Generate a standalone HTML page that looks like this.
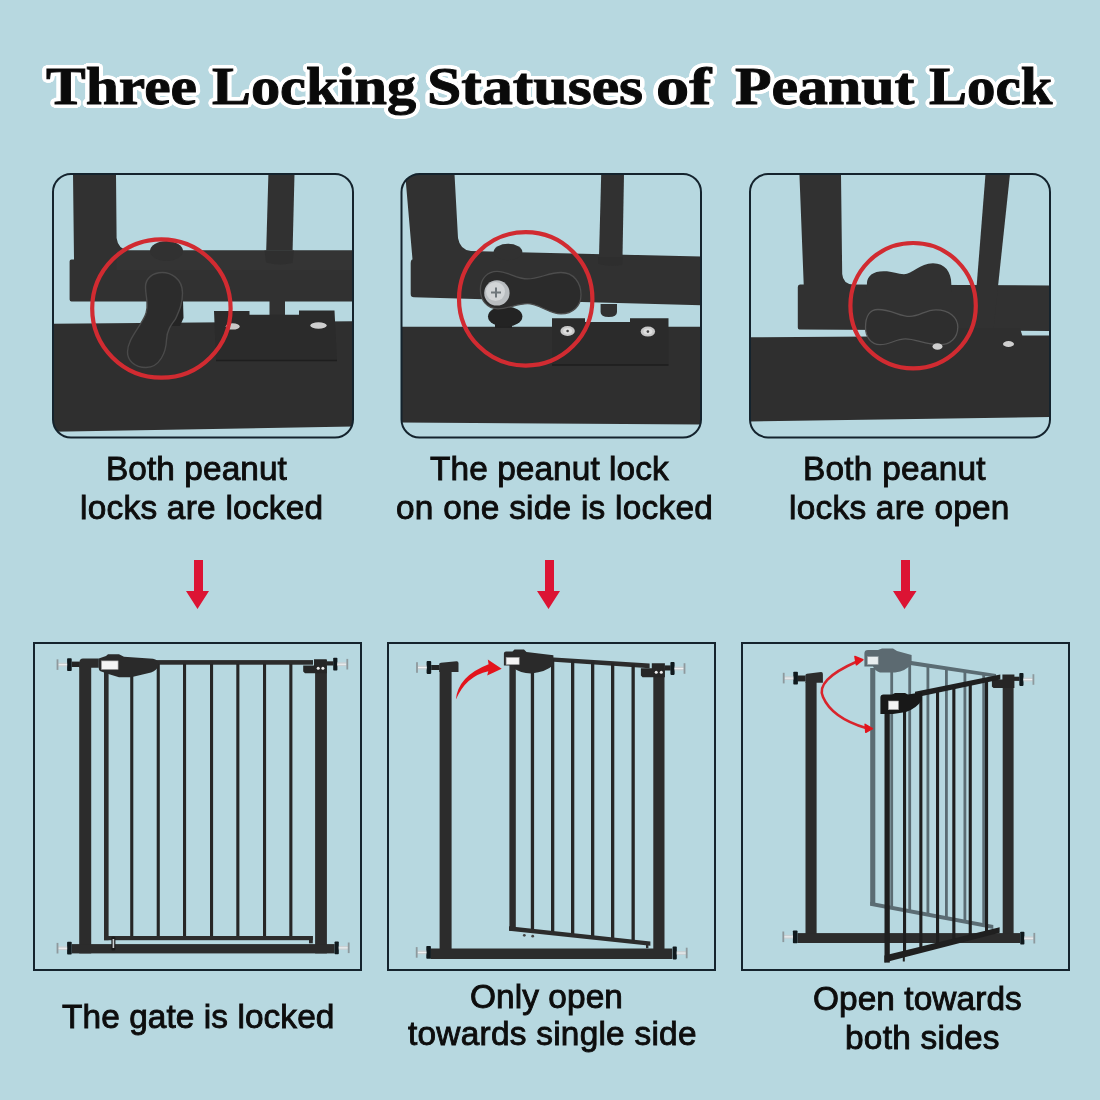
<!DOCTYPE html>
<html><head><meta charset="utf-8">
<style>
html,body{margin:0;padding:0;}
body{width:1100px;height:1100px;background:#b7d8e0;position:relative;overflow:hidden;font-family:"Liberation Sans",sans-serif;}
.w{position:absolute;top:0;white-space:nowrap;font-family:"Liberation Serif",serif;font-weight:bold;color:#0a0a0a;font-size:52.5px;line-height:1;transform-origin:0 0;-webkit-text-stroke:0.9px #0a0a0a;
 text-shadow:4.00px 0.00px 0 #fff,3.86px 1.04px 0 #fff,3.46px 2.00px 0 #fff,2.83px 2.83px 0 #fff,2.00px 3.46px 0 #fff,1.04px 3.86px 0 #fff,0.00px 4.00px 0 #fff,-1.04px 3.86px 0 #fff,-2.00px 3.46px 0 #fff,-2.83px 2.83px 0 #fff,-3.46px 2.00px 0 #fff,-3.86px 1.04px 0 #fff,-4.00px 0.00px 0 #fff,-3.86px -1.04px 0 #fff,-3.46px -2.00px 0 #fff,-2.83px -2.83px 0 #fff,-2.00px -3.46px 0 #fff,-1.04px -3.86px 0 #fff,-0.00px -4.00px 0 #fff,1.04px -3.86px 0 #fff,2.00px -3.46px 0 #fff,2.83px -2.83px 0 #fff,3.46px -2.00px 0 #fff,3.86px -1.04px 0 #fff,2.50px 0.00px 0 #fff,2.17px 1.25px 0 #fff,1.25px 2.17px 0 #fff,0.00px 2.50px 0 #fff,-1.25px 2.17px 0 #fff,-2.17px 1.25px 0 #fff,-2.50px 0.00px 0 #fff,-2.17px -1.25px 0 #fff,-1.25px -2.17px 0 #fff,-0.00px -2.50px 0 #fff,1.25px -2.17px 0 #fff,2.17px -1.25px 0 #fff,0 0 5px #fff;}
.cap{position:absolute;white-space:nowrap;color:#0d0d0d;font-size:33.4px;line-height:1;letter-spacing:0.25px;-webkit-text-stroke:0.9px #0d0d0d;will-change:transform;}
svg{position:absolute;left:0;top:0;}
#w1{left:46.1px;top:59.8px;transform:scaleX(1.134)}
#w2{left:211.5px;top:59.8px;transform:scaleX(1.111)}
#w3{left:427.0px;top:59.8px;transform:scaleX(1.176)}
#w4{left:656.2px;top:59.8px;transform:scaleX(1.264)}
#w5{left:734.8px;top:59.8px;transform:scaleX(1.140)}
#w6{left:929.1px;top:59.8px;transform:scaleX(1.084)}

</style></head><body>
<svg width="1100" height="1100" viewBox="0 0 1100 1100">
<defs>
 <clipPath id="k1"><rect x="53" y="174" width="300" height="263.5" rx="18"/></clipPath>
 <clipPath id="k2"><rect x="401.5" y="174" width="299.5" height="263.5" rx="18"/></clipPath>
 <clipPath id="k3"><rect x="750" y="174" width="300" height="263.5" rx="18"/></clipPath>
</defs>
<!-- TOP PANELS -->
<g id="tp1" clip-path="url(#k1)">
 <g fill="#313131">
  <path d="M73,174H116L116.6,238Q118,249.5 129,250.5H354V301.5H71.5Q69.6,301.5 69.6,299.5V261.5Q69.6,259.5 71.5,259.5H74Z"/>
  <path d="M116.6,250.5H354V270H116.6Z" fill="#343434"/>
  <path d="M268.4,174H294.5L292.6,250.5H266.2Z"/>
  <path d="M264.5,250.5H294L292.5,263Q280,266 266,262.5Z" fill="#2f2f2f"/>
  <ellipse cx="166.5" cy="251" rx="16.5" ry="10"/>
  <path d="M269.5,300H285V316H269.5Z"/>
  <path d="M50,323.7L354,321.3V426.5L50,431.8Z" fill="#2f2f2f"/>
  <path d="M214,311H249.5V314.7H299V310.4H334.5L337,361H216Z" fill="#2b2b2b"/>
 </g>
 <path d="M216,360.5H337" stroke="#1e1e1e" stroke-width="1.5"/>
 <ellipse cx="232.7" cy="326.4" rx="7" ry="3.2" fill="#c9c9c9"/>
 <ellipse cx="318.5" cy="325.5" rx="8.2" ry="3.3" fill="#cfcfcf"/>
 <path d="M176,298L183,300.5L183.5,318L180,326L170,326Z" fill="#242424"/>
 <path d="M162.4,272.5C170,272.5 182.5,278 182.5,293C182.5,303 180,309 175.5,319C171,325 167,330 166.5,340C166,352 160,367.5 146,367.5C134,367.5 127.5,360 127.5,352C127.5,342 135,333 141,323C146,315 147.6,311 147,302C146.5,296 145.5,292 145.5,287C145.5,278 153,272.5 162.4,272.5Z" fill="#2c2c2c" stroke="#4a4a4a" stroke-width="1.4"/>
 <circle cx="161.4" cy="308.5" r="69.2" fill="none" stroke="#d12b31" stroke-width="4.2"/>
</g>
<g id="tp2" clip-path="url(#k2)">
 <g fill="#313131">
  <path d="M405.5,178Q405.5,174 410,174H454.5L458,238Q460,250 471,251L702,256.6V305.3L414,297.3Q410.7,297.3 410.7,294V263Q410.7,260 412,259.5L412.5,259.5Z"/>
  <path d="M601.2,174H624L622.5,257H599Z"/>
  <path d="M598,257H623L622,265Q610,267 598.5,264Z" fill="#2e2e2e"/>
  <path d="M600.6,304H617V312Q617,317 608.8,317Q600.6,317 600.6,312Z"/>
  <ellipse cx="508" cy="252" rx="14.4" ry="8.2"/>
  <path d="M400,326.7H702V424.6L400,422.6Z" fill="#2f2f2f"/>
  <path d="M495,315H512V328H495Z" fill="#222"/>
  <ellipse cx="505.2" cy="316.5" rx="17.2" ry="10.2" fill="#232323"/>
  <path d="M552,318.2H585V322H630V318.2H668.5V365.5H552Z" fill="#2b2b2b"/>
 </g>
 <path d="M552,365H668.5" stroke="#1e1e1e" stroke-width="1.5"/>
 <ellipse cx="567.6" cy="331" rx="7.2" ry="5" fill="#c8c8c8"/><ellipse cx="567.6" cy="331" rx="4.5" ry="3" fill="#dedede"/><circle cx="567.6" cy="331" r="1.3" fill="#444"/>
 <ellipse cx="647.9" cy="331.6" rx="7.2" ry="5" fill="#c8c8c8"/><ellipse cx="647.9" cy="331.6" rx="4.5" ry="3" fill="#dedede"/><circle cx="647.9" cy="331.6" r="1.3" fill="#444"/>
 <path d="M480.4,289.7C480.4,278 488,271.3 497,271.3C508,271.3 516,278.9 527.5,278.9C539,278.9 549,272.5 561,272.5C574,272.5 581,283 581,294.8C581,306 573,313.9 561,313.9C549,313.9 539,303.7 527.5,303.7C516,303.7 509,308.8 498,308.8C487,308.8 480.4,300 480.4,289.7Z" fill="#2b2b2b" stroke="#4d4d4d" stroke-width="1.3"/>
 <circle cx="496.9" cy="292.9" r="12.7" fill="#b9bdc0"/>
 <circle cx="495.5" cy="291.5" r="9.5" fill="#d2d5d7"/>
 <path d="M491,292.5H501M496,287.5V297.5" stroke="#6f767b" stroke-width="2"/>
 <circle cx="525.7" cy="298.9" r="66.7" fill="none" stroke="#d12b31" stroke-width="4.2"/>
</g>
<g id="tp3" clip-path="url(#k3)">
 <g fill="#313131">
  <path d="M799.4,174H841L842.2,274Q843,284 853,284.5L1052,285.5V331L799.5,329.5Q797.8,329.5 797.8,327.5V287Q797.8,284.5 800,284.5H803.7Z"/>
  <path d="M985.5,174H1010L992.5,338H972.5Z"/>
  <path d="M748,337.3L1052,335.4V417L748,421.5Z" fill="#2f2f2f"/>
  <path d="M935,328H1020L1023,338H935Z" fill="#2f2f2f"/>
  <path d="M866.9,292V284C867,276 873,271.3 883.6,271.3C893,271.3 898,274.2 904,274.2C912,274.2 920,263.3 933,263.3C945,263.3 951.3,272 951.3,284V292Z"/>
 </g>
 <path d="M865.5,327.3C865.5,316 870,309.5 878,309.5C892,309.5 899,316.4 909.8,316.4C920,316.4 925,309.8 936,309.8C949,309.8 957.8,317 957.8,327.3C957.8,338 950,344.7 940,344.7C925,344.7 916,338.9 905.5,338.9C895,338.9 891,344.7 880,344.7C871,344.7 865.5,337 865.5,327.3Z" fill="#2e2e2e" stroke="#555" stroke-width="1.3"/>
 <ellipse cx="937.5" cy="346.5" rx="5" ry="3.2" fill="#cfcfcf"/>
 <ellipse cx="1008.5" cy="344" rx="5.5" ry="3" fill="#cfcfcf"/>
 <circle cx="913.1" cy="305.7" r="62.7" fill="none" stroke="#d12b31" stroke-width="4.2"/>
</g>
<g fill="none" stroke="#14232d" stroke-width="2">
 <rect x="53" y="174" width="300" height="263.5" rx="18"/>
 <rect x="401.5" y="174" width="299.5" height="263.5" rx="18"/>
 <rect x="750" y="174" width="300" height="263.5" rx="18"/>
</g>
<!-- DOWN ARROWS -->
<g fill="#dc1434">
 <path d="M194 560H203V591H209L197.5 609L186 591H194Z"/>
 <path d="M545 560H554V591H560L548.5 609L537 591H545Z"/>
 <path d="M901 560H910V591H916.5L904.5 609L893 591H901Z"/>
</g>
<!-- BOTTOM PANELS -->
<g fill="none" stroke="#14232d" stroke-width="2">
 <rect x="34" y="643" width="327" height="327"/>
 <rect x="388" y="643" width="327" height="327"/>
 <rect x="742" y="643" width="327" height="327"/>
</g>
<g id="bp1"><rect x="79.2" y="662.0" width="12.0" height="291.4" fill="#2c2c2c" /><rect x="315.1" y="660.0" width="11.8" height="293.4" fill="#2c2c2c" /><rect x="71.7" y="944.1" width="262.9" height="9.3" fill="#2c2c2c" /><path d="M79.5,667.8V662Q79.5,658.5 83,658.5H98.8V667.8Z" fill="#2c2c2c"/><rect x="71.7" y="661.6" width="7.9" height="5.4" fill="#252525" /><rect x="67.1" y="658.2" width="4.6" height="12.8" fill="#10191d" rx="0.8"/><rect x="58.2" y="662.7" width="8.9" height="3.8" fill="#c9d0d3" /><rect x="58.2" y="664.1" width="8.9" height="1.1" fill="#eef1f2" /><rect x="56.6" y="659.3" width="1.8" height="10.6" fill="#8e999d" /><rect x="67.1" y="941.8" width="4.6" height="12.8" fill="#10191d" rx="0.8"/><rect x="58.2" y="946.3" width="8.9" height="3.8" fill="#c9d0d3" /><rect x="58.2" y="947.7" width="8.9" height="1.1" fill="#eef1f2" /><rect x="56.6" y="942.9" width="1.8" height="10.6" fill="#8e999d" /><rect x="326.7" y="661.3" width="6.7" height="4.2" fill="#252525" /><rect x="333.2" y="657.8" width="4.2" height="12.8" fill="#10191d" rx="0.8"/><rect x="337.4" y="662.3" width="9.2" height="3.8" fill="#c9d0d3" /><rect x="337.4" y="663.7" width="9.2" height="1.1" fill="#eef1f2" /><rect x="346.4" y="658.9" width="1.8" height="10.6" fill="#8e999d" /><rect x="334.6" y="941.4" width="4.2" height="12.8" fill="#10191d" rx="0.8"/><rect x="338.8" y="945.9" width="9.2" height="3.8" fill="#c9d0d3" /><rect x="338.8" y="947.3" width="9.2" height="1.1" fill="#eef1f2" /><rect x="347.8" y="942.5" width="1.8" height="10.6" fill="#8e999d" /><rect x="150.0" y="660.1" width="163.0" height="4.6" fill="#2c2c2c" /><rect x="104.0" y="668.0" width="4.6" height="272.2" fill="#2c2c2c" /><rect x="130.2" y="664.0" width="3.1" height="272.5" fill="#262626" /><rect x="156.7" y="664.0" width="3.1" height="272.5" fill="#262626" /><rect x="183.0" y="664.0" width="3.1" height="272.5" fill="#262626" /><rect x="210.0" y="664.0" width="3.1" height="272.5" fill="#262626" /><rect x="236.3" y="664.0" width="3.1" height="272.5" fill="#262626" /><rect x="263.0" y="664.0" width="3.1" height="272.5" fill="#262626" /><rect x="289.3" y="664.0" width="3.1" height="272.5" fill="#262626" /><rect x="104.0" y="936.0" width="208.8" height="4.2" fill="#2c2c2c" /><rect x="309.0" y="936.0" width="3.8" height="7.3" fill="#2c2c2c" /><rect x="111.4" y="936.4" width="4" height="14" rx="1.5" fill="#1c1c1c"/><rect x="112.6" y="939" width="1.6" height="9" fill="#c9cdd0"/><path d="M303.2,665.5 L314.0,665.5 L314.0,659.3 L326.7,659.3 L326.7,673.2 L305.0,673.2 L303.2,671.5Z" fill="#262626" /><circle cx="318.2" cy="668.3" r="1.5" fill="#eee"/><circle cx="322.9" cy="668.3" r="1.5" fill="#eee"/><path d="M98.8,658.5L106,656L108,654.2H119L124,656.8L153,658.8Q158.3,660 158.3,663V666Q157,670 151,672.5L131,677.2H119L110,674.5L100.5,671.3Q98.8,670.5 98.8,668.5Z" fill="#2a2a2a"/><rect x="101.4" y="660.9" width="16.7" height="8.5" fill="#f4f4f4" stroke="#9a9a9a" stroke-width="0.6"/></g>
<g id="bp2"><rect x="439.6" y="668.0" width="12.0" height="281.0" fill="#2c2c2c" /><path d="M439.2,671.9V664Q439.2,663 441,662.8L456.5,661.3Q458.5,661.2 458.5,663V671.9Z" fill="#2c2c2c"/><rect x="431.2" y="665.0" width="8.2" height="5.0" fill="#252525" /><rect x="426.6" y="661.1" width="4.6" height="12.8" fill="#10191d" rx="0.8"/><rect x="417.7" y="665.6" width="8.9" height="3.8" fill="#c9d0d3" /><rect x="417.7" y="667.0" width="8.9" height="1.1" fill="#eef1f2" /><rect x="416.1" y="662.2" width="1.8" height="10.6" fill="#8e999d" /><rect x="653.3" y="668.0" width="11.2" height="282.0" fill="#2c2c2c" /><rect x="430.5" y="948.5" width="241.7" height="10.5" fill="#2c2c2c" /><rect x="426.3" y="946.0" width="4.6" height="12.8" fill="#10191d" rx="0.8"/><rect x="417.4" y="950.5" width="8.9" height="3.8" fill="#c9d0d3" /><rect x="417.4" y="951.9" width="8.9" height="1.1" fill="#eef1f2" /><rect x="415.8" y="947.1" width="1.8" height="10.6" fill="#8e999d" /><rect x="672.6" y="946.6" width="4.2" height="12.8" fill="#10191d" rx="0.8"/><rect x="676.8" y="951.1" width="9.2" height="3.8" fill="#c9d0d3" /><rect x="676.8" y="952.5" width="9.2" height="1.1" fill="#eef1f2" /><rect x="685.8" y="947.7" width="1.8" height="10.6" fill="#8e999d" /><rect x="664.5" y="665.4" width="6.2" height="5.1" fill="#252525" /><rect x="670.4" y="662.1" width="4.2" height="12.8" fill="#10191d" rx="0.8"/><rect x="674.6" y="666.6" width="9.2" height="3.8" fill="#c9d0d3" /><rect x="674.6" y="668.0" width="9.2" height="1.1" fill="#eef1f2" /><rect x="683.6" y="663.2" width="1.8" height="10.6" fill="#8e999d" /><path d="M640.9,668.3 L651.8,668.3 L651.8,663.2 L664.9,663.2 L664.9,677.3 L642.5,677.3 L640.9,675.5Z" fill="#262626" /><circle cx="656.2" cy="672.3" r="1.5" fill="#eee"/><circle cx="661.3" cy="672.3" r="1.5" fill="#eee"/><path d="M550.0,657.2 L649.6,663.6 L649.6,668.3 L550.0,661.6Z" fill="#2c2c2c" /><rect x="509.4" y="664.0" width="6.4" height="266.8" fill="#2c2c2c" /><rect x="530.8" y="670.0" width="3.3" height="259.7" fill="#262626" /><rect x="551.0" y="659.3" width="3.3" height="272.6" fill="#262626" /><rect x="571.0" y="660.6" width="3.3" height="273.5" fill="#262626" /><rect x="591.0" y="661.8" width="3.3" height="274.4" fill="#262626" /><rect x="611.0" y="663.1" width="3.3" height="275.3" fill="#262626" /><rect x="631.5" y="664.4" width="3.3" height="276.2" fill="#262626" /><path d="M509.0,926.2 L650.4,941.5 L650.4,945.8 L509.0,930.8Z" fill="#2c2c2c" /><rect x="646.0" y="942.0" width="2.4" height="6.2" fill="#2c2c2c" /><circle cx="524.3" cy="935.3" r="1.4" fill="#444"/><circle cx="532.7" cy="936.2" r="1.4" fill="#444"/><path d="M503.9,653.5Q503.9,651.5 506,651.5H512.5L514.5,649.4H524L526.5,652L553.4,655.2V665Q546,672 531.5,673.4Q520,673.5 514,668.3L514,665.4H503.9Z" fill="#2a2a2a"/><rect x="506.1" y="657.4" width="13.1" height="7.2" fill="#f4f4f4" stroke="#9a9a9a" stroke-width="0.6"/><path d="M455.9,699.5Q458,676 488.6,664.2L487.8,659.5L501.7,668.8L487.2,675.5L488.3,671.2Q466,676 455.9,699.5Z" fill="#e3141c"/></g>
<g id="bp3"><rect x="805.5" y="682.0" width="11.1" height="252.0" fill="#2c2c2c" /><path d="M805.5,682.8V675Q805.5,674 807,673.8L821,672Q822.9,671.9 822.9,674V682.8Z" fill="#2c2c2c"/><rect x="797.5" y="675.5" width="8.1" height="5.9" fill="#252525" /><rect x="793.3" y="671.7" width="4.6" height="12.8" fill="#10191d" rx="0.8"/><rect x="784.4" y="676.2" width="8.9" height="3.8" fill="#c9d0d3" /><rect x="784.4" y="677.6" width="8.9" height="1.1" fill="#eef1f2" /><rect x="782.8" y="672.8" width="1.8" height="10.6" fill="#8e999d" /><rect x="1002.7" y="686.0" width="10.9" height="248.5" fill="#2c2c2c" /><rect x="797.5" y="933.1" width="222.7" height="9.9" fill="#2c2c2c" /><rect x="792.9" y="930.4" width="4.6" height="12.8" fill="#10191d" rx="0.8"/><rect x="784.0" y="934.9" width="8.9" height="3.8" fill="#c9d0d3" /><rect x="784.0" y="936.3" width="8.9" height="1.1" fill="#eef1f2" /><rect x="782.4" y="931.5" width="1.8" height="10.6" fill="#8e999d" /><rect x="1020.2" y="931.8" width="4.2" height="12.8" fill="#10191d" rx="0.8"/><rect x="1024.4" y="936.3" width="9.2" height="3.8" fill="#c9d0d3" /><rect x="1024.4" y="937.7" width="9.2" height="1.1" fill="#eef1f2" /><rect x="1033.4" y="932.9" width="1.8" height="10.6" fill="#8e999d" /><rect x="1013.6" y="676.7" width="5.9" height="4.2" fill="#252525" /><rect x="1019.3" y="673.1" width="4.2" height="12.8" fill="#10191d" rx="0.8"/><rect x="1023.5" y="677.6" width="9.2" height="3.8" fill="#c9d0d3" /><rect x="1023.5" y="679.0" width="9.2" height="1.1" fill="#eef1f2" /><rect x="1032.5" y="674.2" width="1.8" height="10.6" fill="#8e999d" /><path d="M991.9,679.5 L1002.4,679.5 L1002.4,674.6 L1014.4,674.6 L1014.4,688.0 L993.5,688.0 L991.9,686.5Z" fill="#262626" /><g><path d="M905.0,660.1 L996.0,673.9 L996.0,677.6 L905.0,664.3Z" fill="#5b6c73" /><rect x="870.2" y="668.0" width="5.1" height="237.5" fill="#5b6c73" /><rect x="890.3" y="659.9" width="2.8" height="247.0" fill="#5b6c73" /><rect x="908.3" y="662.6" width="2.8" height="247.7" fill="#5b6c73" /><rect x="926.5" y="665.4" width="2.8" height="248.4" fill="#5b6c73" /><rect x="945.0" y="668.2" width="2.8" height="249.1" fill="#5b6c73" /><rect x="963.5" y="671.0" width="2.8" height="249.8" fill="#5b6c73" /><rect x="982.3" y="673.8" width="2.8" height="250.5" fill="#5b6c73" /><path d="M870.2,901.8 L993.3,925.1 L993.3,929.0 L870.2,905.7Z" fill="#5b6c73" /><path d="M864.4,653.5Q864.4,650.1 868,650.1H878L882,648.5H893L897,651L911.6,655V664Q906,671 895,672.6L880,672.6Q875,671 873,666.5H864.4Z" fill="#5c6a71"/><rect x="867.3" y="656.6" width="10.9" height="8" fill="#e9eef0" stroke="#8d999e" stroke-width="0.6"/></g><path d="M915.0,691.8 L1000.3,674.6 L1000.3,679.6 L915.0,697.4Z" fill="#1f1f1f" /><rect x="884.5" y="712.0" width="5.3" height="250.6" fill="#1f1f1f" /><rect x="903.0" y="712.0" width="3.1" height="239.6" fill="#1f1f1f" /><rect x="919.3" y="693.6" width="3.1" height="254.0" fill="#1f1f1f" /><rect x="936.0" y="690.3" width="3.1" height="253.2" fill="#1f1f1f" /><rect x="952.3" y="687.0" width="3.1" height="252.5" fill="#1f1f1f" /><rect x="968.7" y="683.7" width="3.1" height="251.8" fill="#1f1f1f" /><rect x="985.0" y="680.4" width="3.1" height="251.0" fill="#1f1f1f" /><path d="M884.4,955.6 L999.6,927.2 L999.6,932.8 L884.4,962.4Z" fill="#1f1f1f" /><rect x="902.8" y="957.0" width="2.0" height="4.5" fill="#1f1f1f" /><path d="M880.4,697.5Q880.4,694.5 883.5,694.5H892L895,693H905L908,694.5L921.8,692.2V700Q917,708 906,712L893,714.1H880.4Z" fill="#181818"/><rect x="888.4" y="701" width="10.1" height="8.7" fill="#f4f4f4" stroke="#9a9a9a" stroke-width="0.6"/><path d="M857,661.5Q815,680 823,697Q832,718 866,728" fill="none" stroke="#d9242c" stroke-width="2.6"/><path d="M854.9,656.4L862.9,659.6L856.4,664.8Z" fill="#e3141c" stroke="#e3141c" stroke-width="1.5" stroke-linejoin="round"/><path d="M865.1,724.3L872.4,728.6L865.8,732.3Z" fill="#e3141c" stroke="#e3141c" stroke-width="1.5" stroke-linejoin="round"/></g>
</svg>

<div class="w" id="w1">Three</div>
<div class="w" id="w2">Locking</div>
<div class="w" id="w3">Statuses</div>
<div class="w" id="w4">of</div>
<div class="w" id="w5">Peanut</div>
<div class="w" id="w6">Lock</div>

<div class="cap" style="left:105.8px;top:451.5px;letter-spacing:0.08px">Both peanut</div>
<div class="cap" style="left:80.2px;top:490.7px">locks are locked</div>
<div class="cap" style="left:430.3px;top:451.5px;letter-spacing:0.08px">The peanut lock</div>
<div class="cap" style="left:396.2px;top:490.7px">on one side is locked</div>
<div class="cap" style="left:803.1px;top:451.5px">Both peanut</div>
<div class="cap" style="left:789.2px;top:490.7px">locks are open</div>

<div class="cap" style="left:61.6px;top:999.8px;letter-spacing:0.08px">The gate is locked</div>
<div class="cap" style="left:470.4px;top:980.3px;letter-spacing:0.08px">Only open</div>
<div class="cap" style="left:408px;top:1017.4px">towards single side</div>
<div class="cap" style="left:812.9px;top:982.4px;letter-spacing:0.08px">Open towards</div>
<div class="cap" style="left:844.5px;top:1020.6px">both sides</div>
</body></html>
